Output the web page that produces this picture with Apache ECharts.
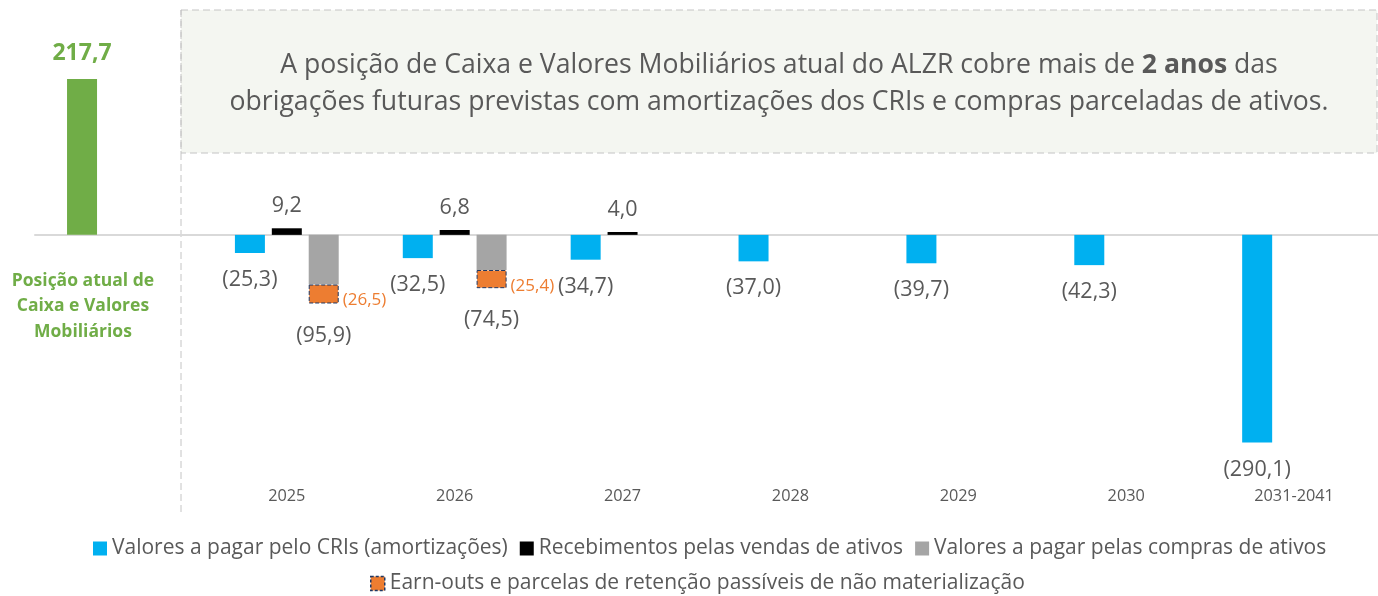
<!DOCTYPE html>
<html>
<head>
<meta charset="utf-8">
<script src="https://cdn.jsdelivr.net/npm/echarts@6/dist/echarts.min.js"></script>
<style>
html,body{margin:0;padding:0;background:#fff;}
#c{width:1378px;height:596px;}
</style>
</head>
<body>
<div id="c"></div>
<script>
const categories = ['Posição atual de\nCaixa e Valores\nMobiliários', '2025', '2026', '2027', '2028', '2029', '2030', '2031-2041'];
const cashPosition = [217.7, '-', '-', '-', '-', '-', '-', '-'];
const criAmortizations = ['-', -25.3, -32.5, -34.7, -37.0, -39.7, -42.3, -290.1];
const assetSales = ['-', 9.2, 6.8, 4.0, '-', '-', '-', '-'];
const assetPurchasesTotal = ['-', -95.9, -74.5, '-', '-', '-', '-', '-'];
const earnOuts = ['-', -26.5, -25.4, '-', '-', '-', '-', '-'];
const seriesNames = [
  'Valores a pagar pelo CRIs (amortizações)',
  'Recebimentos pelas vendas de ativos',
  'Valores a pagar pelas compras de ativos',
  'Earn-outs e parcelas de retenção passíveis de não materialização'
];
const headline = 'A posição de Caixa e Valores Mobiliários atual do ALZR cobre mais de {b|2 anos} das\nobrigações futuras previstas com amortizações dos CRIs e compras parceladas de ativos.';

const purchasesExEarnOut = assetPurchasesTotal.map((v, i) => v === '-' ? '-' : +(v - earnOuts[i]).toFixed(1));

const FONT = "'Open Sans', sans-serif";
const TXT = '#595959';
const fmt = v => {
  if (v === '-' || v == null) return '';
  const s = Math.abs(v).toFixed(1).replace('.', ',');
  return v < 0 ? '(' + s + ')' : s;
};

const chart = echarts.init(document.getElementById('c'), null, {renderer: 'canvas'});
const BW = 30, GAP = '23%';
const option = {
  animation: false,
  textStyle: {fontFamily: FONT},
  title: {
    text: headline,
    left: 779, top: 47, textAlign: 'center', padding: 0,
    textStyle: {
      fontFamily: FONT, fontSize: 26.6, fontWeight: 'normal', color: TXT, lineHeight: 37,
      rich: {b: {fontFamily: FONT, fontSize: 26.6, fontWeight: 'bold', color: TXT, lineHeight: 37}}
    }
  },
  graphic: [
    {type: 'rect', z: -1, shape: {x: 181, y: 10, width: 1196, height: 143},
     style: {fill: '#f4f6f1', stroke: '#c4c4c4', lineWidth: 1, lineDash: [7, 4]}},
    {type: 'line', z: -1, shape: {x1: 181, y1: 10, x2: 181, y2: 514},
     style: {stroke: '#c4c4c4', lineWidth: 1, lineDash: [7, 4]}}
  ],
  grid: [
    {left: 35, right: 0, top: 56, bottom: 115},
    {left: 35, right: 0, top: 56, bottom: 361}
  ],
  xAxis: [
    {type: 'category', gridIndex: 0, data: categories, position: 'bottom',
     axisLine: {show: false, onZero: false}, axisTick: {show: false},
     axisLabel: {interval: 0, margin: 7, fontSize: 16.3, color: TXT, fontFamily: FONT,
                 formatter: (v, i) => i === 0 ? '' : v}},
    {type: 'category', gridIndex: 1, data: categories, position: 'bottom',
     axisLine: {show: true, onZero: false, lineStyle: {color: '#d9d9d9', width: 2}},
     axisTick: {show: false},
     axisLabel: {interval: 0, margin: 33, fontSize: 17.5, fontWeight: 'bold', color: '#70ad47',
                 lineHeight: 25.5, padding: [0, 72, 0, 0], fontFamily: FONT,
                 formatter: (v, i) => i === 0 ? v : ''}}
  ],
  yAxis: [
    {type: 'value', gridIndex: 0, min: -344, max: 250, show: false, splitLine: {show: false}},
    {type: 'value', gridIndex: 1, min: 0, max: 1, show: false, splitLine: {show: false}}
  ],
  legend: [
    {data: seriesNames.slice(0, 3), left: 88, top: 533, icon: 'rect',
     itemWidth: 14, itemHeight: 14, itemGap: 12,
     textStyle: {fontSize: 21, color: TXT, fontFamily: FONT}},
    {data: seriesNames.slice(3), left: 365, top: 568, icon: 'rect',
     itemWidth: 14, itemHeight: 14, itemGap: 12,
     itemStyle: {borderType: [3, 2], borderWidth: 1.5, borderColor: '#1f3864'},
     textStyle: {fontSize: 21, color: TXT, fontFamily: FONT}}
  ],
  series: [
    {name: 'Posição atual de Caixa e Valores Mobiliários', type: 'bar', stack: 'a', data: cashPosition,
     barWidth: BW, barGap: GAP, itemStyle: {color: '#70ad47'},
     label: {show: true, position: 'outside', distance: 14, fontSize: 23, fontWeight: 'bold',
             color: '#70ad47', fontFamily: FONT, formatter: p => fmt(p.value)}},
    {name: seriesNames[0], type: 'bar', stack: 'a', data: criAmortizations,
     barWidth: BW, barGap: GAP, itemStyle: {color: '#00b0f0'},
     label: {show: true, position: 'outside', distance: 16, fontSize: 21.5, color: TXT,
             fontFamily: FONT, formatter: p => fmt(p.value)}},
    {name: seriesNames[1], type: 'bar', stack: 'b', data: assetSales,
     barWidth: BW, barGap: GAP, itemStyle: {color: '#000000'},
     label: {show: true, position: 'outside', distance: 11, fontSize: 21.5, color: TXT,
             fontFamily: FONT, formatter: p => fmt(p.value)}},
    {name: seriesNames[2], type: 'bar', stack: 'c', data: purchasesExEarnOut,
     barWidth: BW, barGap: GAP, itemStyle: {color: '#a5a5a5'},
     label: {show: true, position: ['100%', '100%'], offset: [4, 16], align: 'left', verticalAlign: 'middle',
             fontSize: 17, color: '#ed7d31', fontFamily: FONT,
             formatter: p => fmt(earnOuts[p.dataIndex])}},
    {name: seriesNames[3], type: 'bar', stack: 'c', data: earnOuts,
     barWidth: BW, barGap: GAP,
     itemStyle: {color: '#ed7d31', borderColor: '#1f3864', borderWidth: 1, borderType: 'dashed'},
     label: {show: true, position: 'outside', distance: 21, fontSize: 21.5, color: TXT,
             fontFamily: FONT, formatter: p => fmt(assetPurchasesTotal[p.dataIndex])}}
  ]
};
chart.setOption(option);
</script>
</body>
</html>
